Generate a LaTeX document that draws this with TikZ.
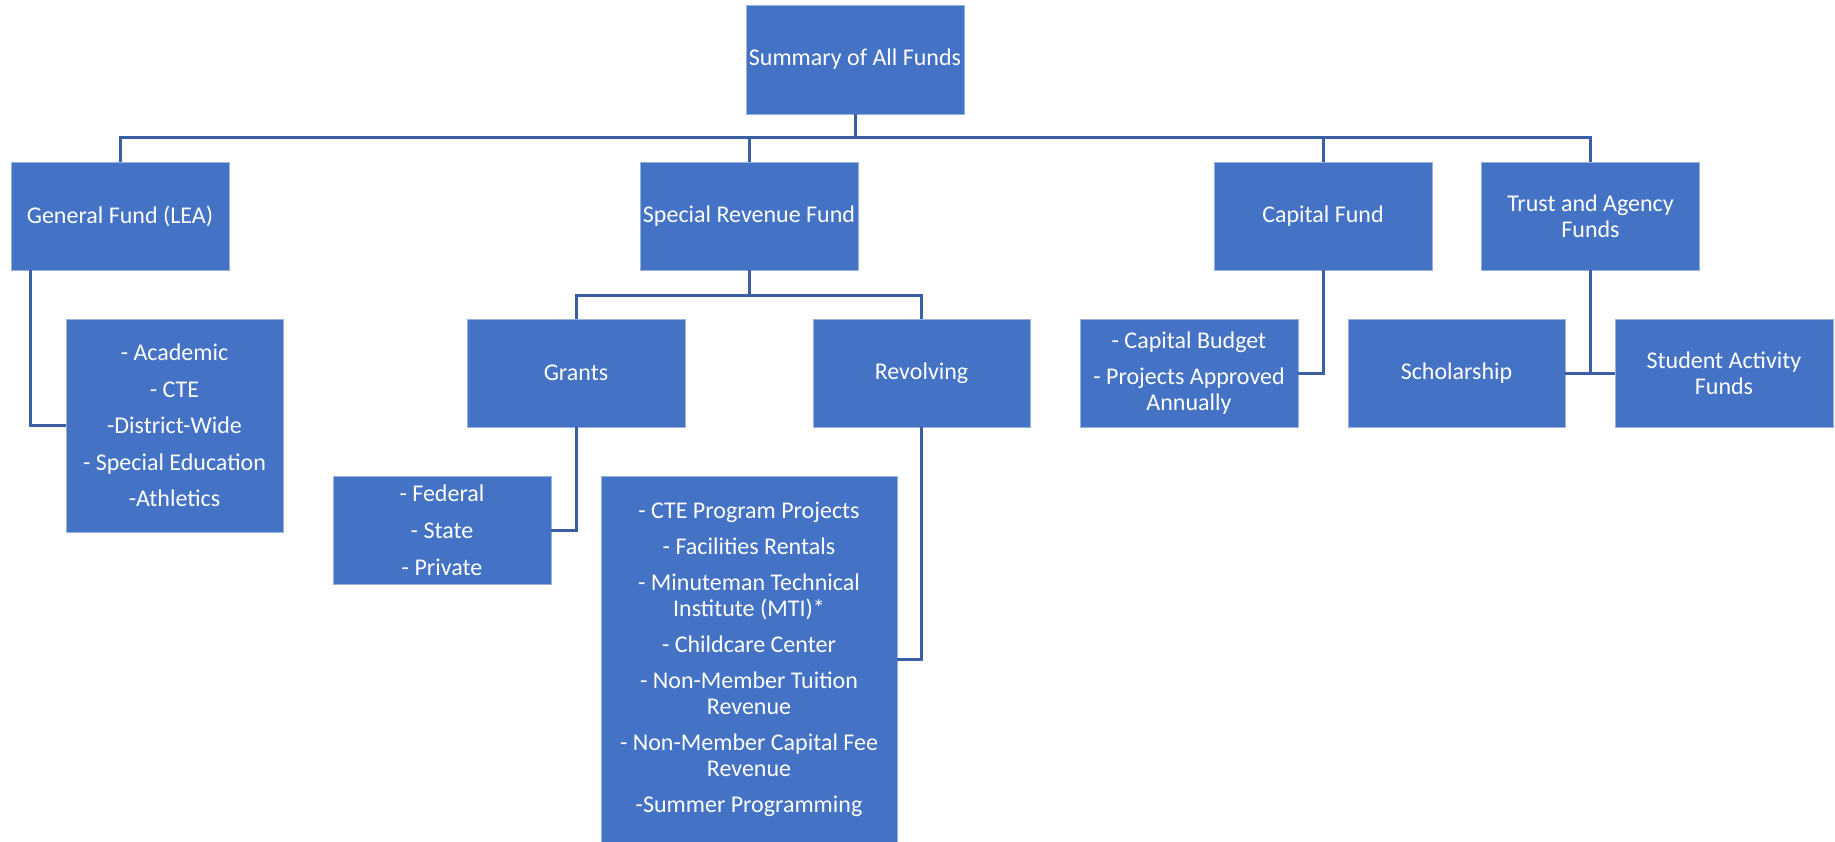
\documentclass[tikz,border=0pt]{standalone}
\usepackage{fontspec}
\setmainfont{Carlito}
\usepackage{tikz}
\usetikzlibrary{positioning,calc}
\definecolor{fundblue}{HTML}{4472C4}
\definecolor{linkblue}{HTML}{3A5FA5}
\colorlet{edge}{white!45!fundblue}

\begin{document}
\begin{tikzpicture}[
    x=1pt, y=-1pt,
    box/.style={draw=edge, line width=0.8pt, fill=fundblue, text=white,
                align=center, inner sep=2pt, font=\fontsize{24}{26}\selectfont,
                minimum width=218pt, minimum height=108pt},
    tall/.style={box, minimum height=213pt},
    link/.style={draw=linkblue, line width=3pt},
  ]
  \useasboundingbox (0,0) rectangle (1835,842);

  \node[box, minimum height=109pt] (summary) at (855,59.5) {Summary of All Funds};

  \node[box] (general) at (120,216) {General Fund (LEA)};
  \node[box] (special) at (749,216) {Special Revenue Fund};
  \node[box] (capital) at (1323,216) {Capital Fund};
  \node[box] (trust) at (1590.5,216) {Trust and Agency\\ Funds};

  \node[tall, minimum width=217pt] (genlist) at (174.5,425.5)
    {- Academic\\[10.5pt] - CTE\\[10.5pt] -District-Wide\\[10.5pt]
     - Special Education\\[10.5pt] -Athletics};
  \node[box] (grants) at (576,373) {Grants};
  \node[box, minimum width=217pt] (revolving) at (921.5,373) {Revolving};
  \node[box] (caplist) at (1189,373)
    {- Capital Budget\\[10pt] - Projects Approved\\ Annually};
  \node[box, minimum width=217pt] (scholarship) at (1456.5,373) {Scholarship};
  \node[box] (student) at (1724,373) {Student Activity\\ Funds};

  \node[box] (grantlist) at (442,530)
    {- Federal\\[11pt] - State\\[11pt] - Private};
  \node[box, minimum width=296pt, minimum height=366pt] (revlist) at (749,659)
    {- CTE Program Projects\\[10pt] - Facilities Rentals\\[10pt]
     - Minuteman Technical\\ Institute (MTI)*\\[10pt] - Childcare Center\\[10pt]
     - Non-Member Tuition\\ Revenue\\[10pt] - Non-Member Capital Fee\\ Revenue\\[10pt]
     -Summer Programming};

  \coordinate (bus) at (0,137.5);
  \coordinate (subbus) at (0,295);

  \draw[link] (summary.south) -- (summary.south |- bus);
  \draw[link] (general.north) |- (trust.north |- bus) -- (trust.north);
  \draw[link] (special.north) -- (special.north |- bus);
  \draw[link] (capital.north) -- (capital.north |- bus);

  \draw[link] ($(general.south west)+(20,0)$) |- (genlist.west);

  \draw[link] (special.south) -- (special.south |- subbus);
  \draw[link] (grants.north) |- (revolving.north |- subbus) -- (revolving.north);
  \draw[link] (grants.south) |- (grantlist.east);
  \draw[link] (revolving.south) |- (revlist.east);

  \draw[link] (capital.south) |- (caplist.east);
  \draw[link] (trust.south) -- (trust.south |- scholarship.east);
  \draw[link] (scholarship.east) -- (student.west);
\end{tikzpicture}
\end{document}
